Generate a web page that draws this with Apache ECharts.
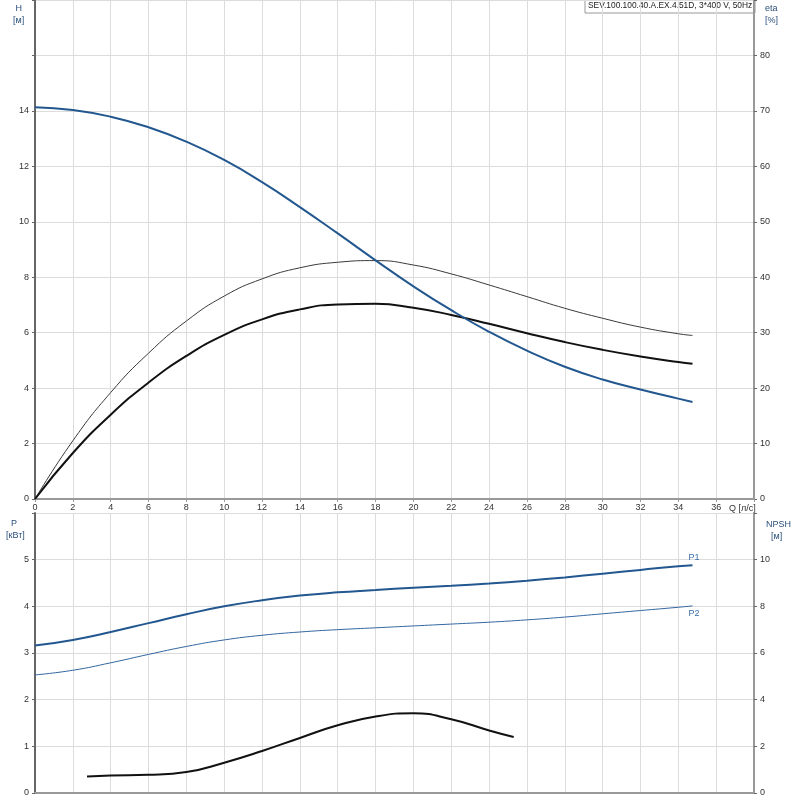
<!DOCTYPE html>
<html>
<head>
<meta charset="utf-8">
<script src="https://cdn.jsdelivr.net/npm/echarts@6/dist/echarts.min.js"></script>
<style>
  html, body { margin: 0; padding: 0; background: #fff; }
  #chart { width: 800px; height: 800px; }
</style>
</head>
<body>
<div id="chart"></div>
<script>
// Q points for the performance curves [л/с]
const qCurve = [0, 2, 4, 6, 8, 10, 12, 14, 16, 18, 20, 22, 24, 26, 28, 30, 32, 34, 34.75];
const head = [14.13, 14.03, 13.79, 13.41, 12.89, 12.23, 11.43, 10.53, 9.58, 8.61, 7.67, 6.81, 6.03, 5.35, 4.77, 4.31, 3.95, 3.62, 3.50];
const etaThin = [0, 10.5, 19.2, 26.3, 32.1, 36.6, 39.7, 41.7, 42.7, 43.0, 42.2, 40.6, 38.6, 36.5, 34.4, 32.6, 31.0, 29.8, 29.5];
const etaThick = [0, 8.3, 15.2, 21.0, 25.8, 29.6, 32.4, 34.2, 35.1, 35.2, 34.5, 33.2, 31.6, 29.9, 28.3, 26.9, 25.7, 24.7, 24.4];
const p1 = [3.16, 3.28, 3.45, 3.64, 3.83, 4.00, 4.13, 4.23, 4.30, 4.35, 4.40, 4.44, 4.49, 4.55, 4.62, 4.70, 4.78, 4.86, 4.88];
const p2 = [2.53, 2.63, 2.79, 2.97, 3.14, 3.28, 3.38, 3.45, 3.50, 3.54, 3.58, 3.62, 3.66, 3.71, 3.77, 3.84, 3.91, 3.98, 4.01];
const qNpsh = [2.75, 4, 6, 8, 10, 12, 14, 16, 18, 20, 22, 24, 25.3];
const npsh = [0.71, 0.75, 0.78, 0.9, 1.3, 1.8, 2.36, 2.9, 3.28, 3.42, 3.16, 2.68, 2.4];

const title = 'SEV.100.100.40.A.EX.4.51D, 3*400 V, 50Hz';

const pairs = (xs, ys) => xs.map((x, i) => [x, ys[i]]);

const font = 'Liberation Sans, Arial, sans-serif';
const blue = '#22578f';
const gridLine = { show: true, lineStyle: { color: '#dcdcdc', width: 1 } };
const lbl = { fontSize: 9, color: '#333', fontFamily: font, margin: 6 };

function hideMax(max) {
  return v => (v >= max ? '' : String(v));
}

function curve(xi, yi, data, style, extra) {
  return Object.assign({
    type: 'line', xAxisIndex: xi, yAxisIndex: yi,
    smooth: 0.5, showSymbol: false,
    data: data, lineStyle: style
  }, extra || {});
}

const myChart = echarts.init(document.getElementById('chart'));

const options = {
  animation: false,
  textStyle: { fontFamily: font },
  grid: [
    { left: 35, right: 46, top: 0, height: 499 },
    { left: 35, right: 46, top: 513, height: 280 }
  ],
  xAxis: [
    {
      gridIndex: 0, type: 'value', min: 0, max: 38, interval: 2,
      axisLine: { lineStyle: { color: '#999', width: 2 } },
      axisTick: { show: true, length: 3, lineStyle: { color: '#999' } },
      axisLabel: Object.assign({}, lbl, { formatter: hideMax(38), margin: 4 }),
      splitLine: gridLine
    },
    {
      gridIndex: 1, type: 'value', min: 0, max: 38, interval: 2,
      axisLine: { lineStyle: { color: '#999', width: 2 } },
      axisTick: { show: false },
      axisLabel: { show: false },
      splitLine: gridLine
    }
  ],
  yAxis: [
    {
      gridIndex: 0, type: 'value', min: 0, max: 18, interval: 2,
      axisLine: { show: true, lineStyle: { color: '#666', width: 2 } },
      axisTick: { show: true, length: 3 },
      axisLabel: Object.assign({}, lbl, { formatter: hideMax(16) }),
      splitLine: gridLine
    },
    {
      gridIndex: 0, type: 'value', position: 'right', min: 0, max: 90, interval: 10,
      axisLine: { show: true, lineStyle: { color: '#999', width: 2 } },
      axisTick: { show: true, length: 3, lineStyle: { color: '#666' } },
      axisLabel: Object.assign({}, lbl, { formatter: hideMax(90) }),
      splitLine: { show: false }
    },
    {
      gridIndex: 1, type: 'value', min: 0, max: 6, interval: 1,
      axisLine: { show: true, lineStyle: { color: '#666', width: 2 } },
      axisTick: { show: true, length: 3 },
      axisLabel: Object.assign({}, lbl, { formatter: hideMax(6) }),
      splitLine: gridLine
    },
    {
      gridIndex: 1, type: 'value', position: 'right', min: 0, max: 12, interval: 2,
      axisLine: { show: true, lineStyle: { color: '#999', width: 2 } },
      axisTick: { show: true, length: 3, lineStyle: { color: '#666' } },
      axisLabel: Object.assign({}, lbl, { formatter: hideMax(12) }),
      splitLine: { show: false }
    }
  ],
  graphic: [
    { type: 'text', left: 13, top: 3, style: { text: ' H\n[м]', fill: '#2a4f7a', lineHeight: 12, font: '9px ' + font } },
    { type: 'text', left: 765, top: 3, style: { text: 'eta\n[%]', fill: '#2a4f7a', lineHeight: 12, font: '9px ' + font } },
    { type: 'text', left: 6, top: 518, style: { text: '  P\n[кВт]', fill: '#2a4f7a', lineHeight: 12, font: '9px ' + font } },
    { type: 'text', left: 766, top: 519, style: { text: 'NPSH\n  [м]', fill: '#2a4f7a', lineHeight: 12, font: '9px ' + font } },
    { type: 'text', left: 729, top: 504, style: { text: 'Q [л/с]', fill: '#333', font: '9px ' + font } },
    {
      type: 'rect', shape: { x: 585, y: 0, width: 170, height: 13 },
      style: { fill: '#fff', stroke: '#999', lineWidth: 1 }
    },
    { type: 'text', left: 588, top: 2, style: { text: title, fill: '#222', font: '8.4px ' + font } }
  ],
  series: [
    curve(0, 0, pairs(qCurve, head), { color: blue, width: 2 }, { z: 5 }),
    curve(0, 1, pairs(qCurve, etaThin), { color: '#3a3a3a', width: 1 }),
    curve(0, 1, pairs(qCurve, etaThick), { color: '#111', width: 2 }),
    curve(1, 2, pairs(qCurve, p1), { color: blue, width: 2 }, {
      endLabel: { show: true, formatter: 'P1', color: '#3a6ea5', fontSize: 9, offset: [-12, -8] }
    }),
    curve(1, 2, pairs(qCurve, p2), { color: '#3266a0', width: 1 }, {
      endLabel: { show: true, formatter: 'P2', color: '#3a6ea5', fontSize: 9, offset: [-12, 8] }
    }),
    curve(1, 3, pairs(qNpsh, npsh), { color: '#111', width: 2 })
  ]
};

myChart.setOption(options);
</script>
</body>
</html>
